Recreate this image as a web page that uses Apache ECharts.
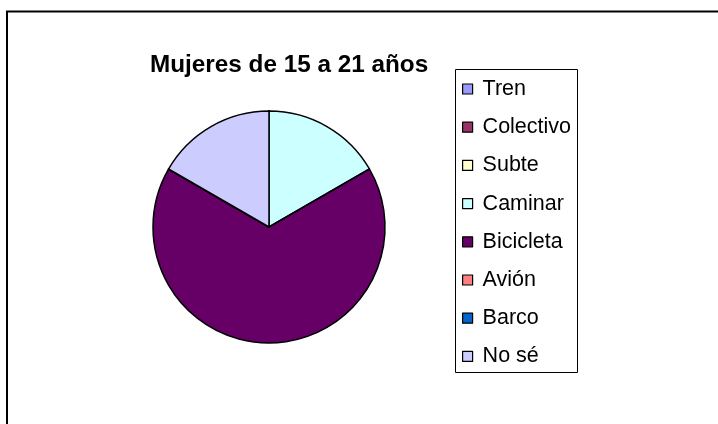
<!DOCTYPE html>
<html>
<head>
<meta charset="utf-8">
<script src="https://cdn.jsdelivr.net/npm/echarts@6/dist/echarts.min.js"></script>
<style>
  html, body { margin: 0; padding: 0; background: #ffffff; }
  #chart { width: 718px; height: 424px; }
</style>
</head>
<body>
<div id="chart"></div>
<script>
// Transport modes and the number of answers for each one
const categories = ['Tren', 'Colectivo', 'Subte', 'Caminar', 'Bicicleta', 'Avión', 'Barco', 'No sé'];
const values = [0, 0, 0, 1, 4, 0, 0, 1];
const colors = ['#9999FF', '#993366', '#FFFFCC', '#CCFFFF', '#660066', '#FF8080', '#0066CC', '#CCCCFF'];
const chartTitle = 'Mujeres de 15 a 21 años';

const chart = echarts.init(document.getElementById('chart'), null, { renderer: 'canvas' });

const FONT = '"Liberation Sans", Arial, sans-serif';

chart.setOption({
  backgroundColor: '#ffffff',
  animation: false,
  color: colors,
  graphic: [
    {
      type: 'rect',
      shape: { x: 7, y: 11.5, width: 760, height: 460 },
      style: { fill: 'none', stroke: '#000000', lineWidth: 2 },
      silent: true
    },
    {
      type: 'rect',
      shape: { x: 455.5, y: 69.5, width: 122, height: 303 },
      style: { fill: 'none', stroke: '#000000', lineWidth: 1 },
      silent: true,
      z: -1
    }
  ],
  title: {
    text: chartTitle,
    left: 150,
    top: 53,
    padding: 0,
    textStyle: { fontFamily: FONT, fontSize: 24.3, fontWeight: 'bold', color: '#000000' }
  },
  legend: {
    orient: 'vertical',
    left: 462,
    top: 78,
    padding: 0,
    itemWidth: 10,
    itemHeight: 10,
    itemGap: 16.2,
    icon: 'rect',
    selectedMode: false,
    itemStyle: { borderColor: '#000000', borderWidth: 1.2 },
    textStyle: {
      fontFamily: FONT,
      fontSize: 21.5,
      color: '#000000',
      lineHeight: 22,
      padding: [0, 0, 0, 5]
    },
    data: categories
  },
  series: [
    {
      type: 'pie',
      center: [269, 227],
      radius: 116,
      startAngle: 90,
      clockwise: true,
      minAngle: 0,
      avoidLabelOverlap: false,
      label: { show: false },
      labelLine: { show: false },
      emphasis: { disabled: true },
      itemStyle: { borderColor: '#000000', borderWidth: 1.5 },
      data: categories.map((name, i) => ({ name: name, value: values[i] }))
    }
  ]
});
</script>
</body>
</html>
